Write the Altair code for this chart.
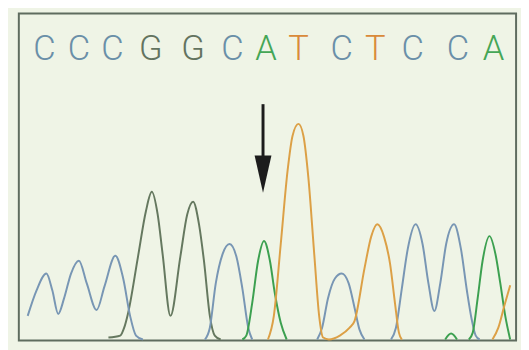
import altair as alt
import pandas as pd

# ---- base calls (letters above the trace) ----
bases = ["C", "C", "C", "G", "G", "C", "A", "T", "C", "T", "C", "C", "A"]
base_scan = [26, 61, 95, 134, 177, 217, 251, 284, 328, 362, 400, 446, 482]
base_level = 296

# ---- C channel (blue) ----
c_scan = [9, 18, 28, 34, 40, 46, 53, 61, 69, 79, 87, 98, 106, 113, 119, 126,
          189, 194, 200, 207, 214, 221, 227, 233, 237,
          303, 308, 314, 321, 328, 335, 341, 346, 351,
          378, 383, 389, 395, 403, 410, 416, 422, 428, 434, 442, 449, 455, 460, 464, 468]
c_signal = [25, 51, 68, 51, 27, 43, 68, 81, 58, 31, 55, 86, 63, 25, 5, 1,
            1, 13, 58, 88, 98, 85, 53, 13, 1,
            1, 13, 43, 63, 68, 58, 33, 11, 1,
            1, 13, 53, 93, 118, 98, 58, 30, 58, 98, 118, 93, 51, 21, 5, 1]
c_seg = [1] * 16 + [2] * 9 + [3] * 9 + [4] * 16

# ---- G channel (dark grey-green) ----
g_scan = [91, 103, 107, 111, 121, 129, 135, 141, 146, 154, 164, 171, 177, 183, 188, 194, 199, 205]
g_signal = [3, 5, 13, 28, 85, 131, 151, 128, 88, 25, 85, 128, 141, 118, 81, 25, 5, 1]
g_seg = [1] * 18

# ---- A channel (green) ----
a_scan = [227, 231, 237, 243, 249, 255, 260, 266, 272,
          433, 439, 445,
          457, 461, 466, 471, 478, 484, 489, 494, 499]
a_signal = [1, 5, 38, 81, 101, 81, 48, 18, 1,
            1, 7, 1,
            1, 8, 43, 81, 106, 88, 58, 25, 1]
a_seg = [1] * 9 + [2] * 3 + [3] * 9

# ---- T channel (orange) ----
t_scan = [253, 259, 266, 273, 278, 284, 289, 294, 300, 305, 309, 315, 326, 336,
          341, 351, 358, 364, 371, 377, 382, 386, 389,
          481, 487, 493, 499]
t_signal = [1, 25, 98, 173, 208, 220, 208, 166, 88, 25, 3, 1, 5, 13,
            20, 73, 106, 118, 105, 78, 38, 8, 1,
            1, 13, 35, 56]
t_seg = [1] * 23 + [2] * 4

# ---- arrow marking the mutation ----
arrow_scan = [248]
arrow_top = [240]
arrow_bottom = [183]
arrow_head = [169]

channels = ["C", "G", "A", "T"]
trace_colors = ["#7896b4", "#65785f", "#3ca050", "#dca046"]
letter_colors = ["#6a8fa8", "#63735f", "#45a656", "#d98a3a"]


def frame(name, xs, ys, segs):
    return pd.DataFrame({"scan": xs, "signal": ys,
                         "channel": name, "seg": [f"{name}{s}" for s in segs]})


traces = pd.concat([
    frame("G", g_scan, g_signal, g_seg),
    frame("C", c_scan, c_signal, c_seg),
    frame("A", a_scan, a_signal, a_seg),
    frame("T", t_scan, t_signal, t_seg),
], ignore_index=True)

letters = pd.DataFrame({"scan": base_scan, "signal": [base_level] * len(bases), "base": bases})
arrow = pd.DataFrame({"scan": arrow_scan, "top": arrow_top, "bottom": arrow_bottom, "head": arrow_head})

xs = alt.Scale(domain=[0, 505], nice=False, zero=False)
ys = alt.Scale(domain=[0, 332], nice=False, zero=False)

lines = alt.Chart(traces).mark_line(strokeWidth=2, interpolate="monotone").encode(
    x=alt.X("scan:Q", scale=xs, axis=None),
    y=alt.Y("signal:Q", scale=ys, axis=None),
    color=alt.Color("channel:N", scale=alt.Scale(domain=channels, range=trace_colors), legend=None),
    detail="seg:N",
)

text = alt.Chart(letters).mark_text(
    fontSize=35, align="center", baseline="middle", fontWeight=300,
    font="Roboto, Liberation Sans Narrow, DejaVu Sans Condensed, sans-serif",
).encode(
    x=alt.X("scan:Q", scale=xs, axis=None),
    y=alt.Y("signal:Q", scale=ys, axis=None),
    text="base:N",
    color=alt.Color("base:N", scale=alt.Scale(domain=channels, range=letter_colors), legend=None),
)

shaft = alt.Chart(arrow).mark_rule(strokeWidth=3, color="#1c1c1c").encode(
    x=alt.X("scan:Q", scale=xs, axis=None),
    y=alt.Y("top:Q", scale=ys, axis=None),
    y2="bottom:Q",
)

head = alt.Chart(arrow).mark_point(
    shape="M -0.45 -1 L 0.45 -1 L 0 1 Z", size=1444, filled=True, opacity=1, color="#1c1c1c"
).encode(
    x=alt.X("scan:Q", scale=xs, axis=None),
    y=alt.Y("head:Q", scale=ys, axis=None),
)

chart = alt.layer(lines, text, shaft, head).resolve_scale(color="independent").properties(
    width=505, height=332,
    padding={"left": 11, "top": 3, "right": 5, "bottom": 5},
    background="#eff4e6",
).configure_view(
    stroke="#5f6c5f", strokeWidth=2, fill="#eff4e6",
)

chart.save("out.html", embed_options={"renderer": "svg", "actions": False})
